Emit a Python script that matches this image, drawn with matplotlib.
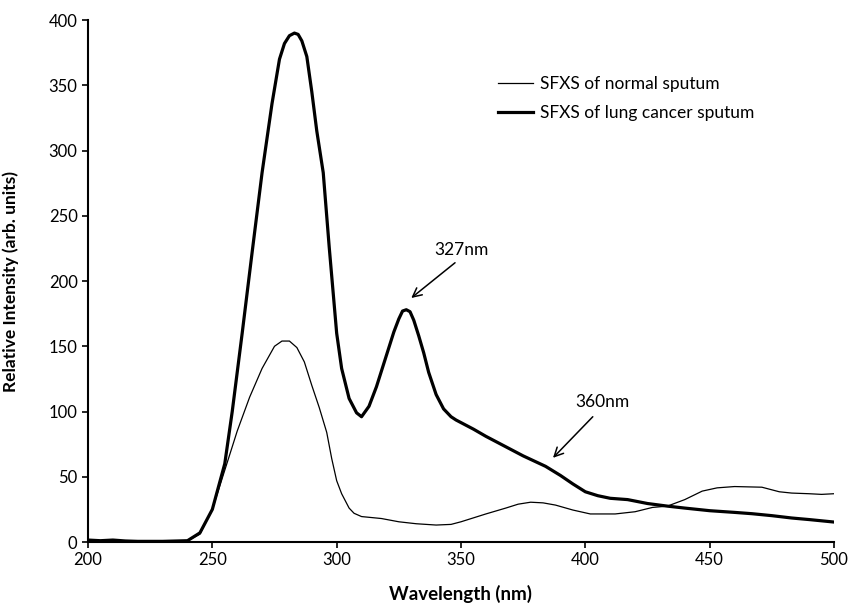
import matplotlib
matplotlib.use("Agg")
import matplotlib.pyplot as plt

# ---- data ----
normal_wl = [200, 205, 210, 215, 220, 230, 240, 245, 250, 255, 260, 265, 270, 275, 278,
             281, 284, 287, 290, 293, 296, 298, 300, 302, 305, 307, 310, 318, 325, 332,
             340, 346, 350, 355, 360, 368, 373, 378, 383, 388, 395, 402, 412, 420, 427,
             433, 440, 447, 453, 460, 471, 478, 483, 490, 495, 500]
normal_int = [1.5, 1.0, 1.5, 0.8, 0.5, 0.5, 1.0, 6, 25, 55, 85, 111, 133, 150, 154,
              154, 149, 138, 120, 103, 84, 64, 47, 37, 26, 22, 19.5, 18, 15.5, 14,
              13, 13.5, 15.5, 18.5, 21.5, 26, 29, 30.5, 30, 28.3, 24.5, 21.5, 21.5, 23.2, 26.5,
              27.5, 32.5, 39, 41.5, 42.5, 42, 38.5, 37.5, 37, 36.5, 37]

cancer_wl = [200, 205, 210, 215, 220, 230, 240, 245, 250, 255, 258, 262, 266, 270, 274,
             277, 279, 281, 283, 284.5, 286, 288, 290, 292, 294.6, 297, 300, 302, 305, 308,
             310, 313, 316, 320, 323, 325, 326.5, 328, 329.5, 331, 333, 335, 337, 340, 343,
             346, 348, 355, 360, 368, 375, 384, 390, 395, 400, 405, 410, 417, 425, 433,
             440, 450, 460, 467, 475, 483, 490, 500]
cancer_int = [1.5, 1.0, 1.5, 0.8, 0.5, 0.5, 1.0, 7, 25, 60, 100, 160, 222, 283, 336,
              370, 382, 388, 390, 389, 384, 372, 345, 315, 283, 226, 160, 133, 110, 99,
              96, 104, 119, 143, 161, 171, 177, 178, 176.5, 170, 158, 145, 130, 113, 102,
              96, 93.5, 86.5, 81, 73, 66, 58, 51, 44.5, 38.5, 35.5, 33.5, 32.5, 29.5, 27.5,
              26, 24, 22.7, 21.7, 20.2, 18.4, 17.2, 15.3]

series_labels = ["SFXS of normal sputum", "SFXS of lung cancer sputum"]
x_ticks = [200, 250, 300, 350, 400, 450, 500]
y_ticks = [0, 50, 100, 150, 200, 250, 300, 350, 400]

peak_labels = ["327nm", "360nm"]

# ---- figure ----
plt.rcParams['font.family'] = ['Lato', 'DejaVu Sans']
fig = plt.figure(figsize=(8.62, 6.09), dpi=100)
ax = fig.add_axes([0.1021, 0.1100, 0.8654, 0.8571])

ax.plot(normal_wl, normal_int, color='black', lw=0.9, label=series_labels[0],
        solid_joinstyle='round')
ax.plot(cancer_wl, cancer_int, color='black', lw=2.3, label=series_labels[1],
        solid_joinstyle='round')

ax.set_xlim(200, 500)
ax.set_ylim(0, 400)
ax.set_xticks(x_ticks)
ax.set_yticks(y_ticks)
ax.tick_params(axis='both', direction='out', length=4.5, width=1.2, labelsize=12,
               colors='black', pad=3)
for s in ['top', 'right']:
    ax.spines[s].set_visible(False)
for s in ['left', 'bottom']:
    ax.spines[s].set_linewidth(1.5)

ax.set_xlabel("Wavelength (nm)", fontsize=13.5, fontweight='bold')
ax.set_ylabel("Relative Intensity (arb. units)", fontsize=12.5, fontweight='bold')
ax.xaxis.set_label_coords(0.5, -0.082)
ax.yaxis.set_label_coords(-0.092, 0.5)

leg = ax.legend(loc='upper left', bbox_to_anchor=(0.578, 0.875),
                bbox_transform=fig.transFigure, frameon=False, fontsize=12.5,
                handlelength=2.0, handletextpad=0.4, labelspacing=0.75,
                borderpad=0, borderaxespad=0)

# annotations
ax.text(350.4, 224, peak_labels[0], ha='center', va='center', fontsize=12.5)
ax.annotate('', xy=(330, 187), xytext=(347.6, 214),
            arrowprops=dict(arrowstyle='->', lw=1.1, color='black', mutation_scale=16,
                            shrinkA=0, shrinkB=0))
ax.text(406.7, 107, peak_labels[1], ha='center', va='center', fontsize=12.5)
ax.annotate('', xy=(387, 64.5), xytext=(403, 96),
            arrowprops=dict(arrowstyle='->', lw=1.1, color='black', mutation_scale=16,
                            shrinkA=0, shrinkB=0))

fig.savefig("out.png", dpi=100)
